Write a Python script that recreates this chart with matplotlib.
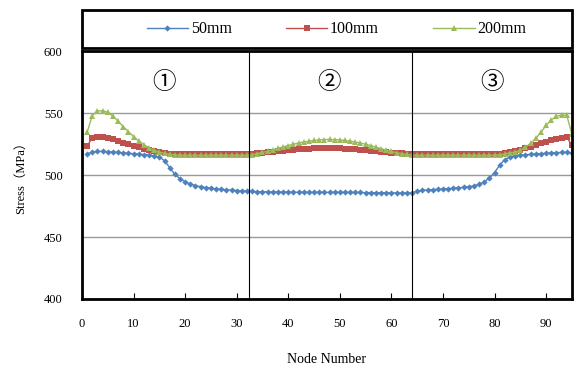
import matplotlib
matplotlib.use("Agg")
import matplotlib.pyplot as plt
from matplotlib.patches import Rectangle
import numpy as np

plt.rcParams['font.family'] = ['Liberation Serif', 'Noto Sans CJK JP', 'DejaVu Sans']

nodes = list(range(1, 96))

s50 = [517.0, 518.5, 519.0, 519.0, 518.8, 518.5, 518.2, 517.8, 517.5, 517.2,
       516.8, 516.4, 516.0, 515.5, 514.5, 511.5, 506.0, 500.5, 497.0, 494.5,
       492.8, 491.5, 490.6, 489.9, 489.3, 488.8, 488.4, 488.1, 487.8, 487.5,
       487.2, 487.0, 486.8, 486.6, 486.5, 486.4, 486.3, 486.3, 486.2, 486.2,
       486.1, 486.1, 486.1, 486.0, 486.0, 486.0, 486.0, 486.0, 486.0, 486.0,
       486.0, 486.0, 485.9, 485.9, 485.8, 485.8, 485.7, 485.7, 485.6, 485.6,
       485.5, 485.5, 485.5, 485.6, 487.0, 487.6, 487.9, 488.2, 488.4, 488.7,
       489.0, 489.3, 489.7, 490.1, 490.6, 491.3, 492.5, 494.5, 497.5, 502.0,
       508.0, 512.5, 514.5, 515.5, 516.0, 516.3, 516.7, 517.0, 517.3, 517.5,
       517.8, 518.0, 518.2, 518.2, 518.0]

s100 = [523.5, 530.0, 530.8, 530.5, 529.8, 528.8, 527.5, 526.2, 524.8, 523.5,
        522.2, 521.0, 520.0, 519.0, 518.2, 517.6, 517.2, 517.0, 517.0, 517.0,
        517.0, 517.0, 517.0, 517.0, 517.0, 517.0, 517.0, 517.0, 517.0, 517.0,
        517.0, 517.0, 517.1, 517.5, 517.8, 518.2, 518.6, 519.0, 519.5, 520.0,
        520.4, 520.8, 521.1, 521.3, 521.4, 521.5, 521.5, 521.5, 521.5, 521.4,
        521.3, 521.1, 520.8, 520.4, 520.0, 519.5, 519.0, 518.6, 518.2, 517.9,
        517.6, 517.4, 517.2, 517.0, 517.0, 517.0, 517.0, 517.0, 517.0, 517.0,
        517.0, 517.0, 517.0, 517.0, 517.0, 517.0, 517.0, 517.0, 517.0, 517.0,
        517.2, 517.6, 518.3, 519.2, 520.3, 521.5, 522.8, 524.2, 525.6, 527.0,
        528.3, 529.4, 530.2, 530.5, 524.0]

s200 = [534.5, 548.0, 551.5, 552.0, 550.5, 547.5, 543.5, 539.0, 535.0, 531.0,
        527.5, 524.5, 522.0, 520.0, 518.5, 517.4, 516.7, 516.3, 516.0, 516.0,
        516.0, 516.0, 516.0, 516.0, 516.0, 516.0, 516.0, 516.0, 516.0, 516.0,
        516.0, 516.0, 516.5, 517.3, 518.2, 519.2, 520.3, 521.5, 522.7, 523.8,
        524.8, 525.8, 526.6, 527.3, 527.9, 528.3, 528.6, 528.7, 528.6, 528.3,
        527.9, 527.3, 526.6, 525.8, 524.8, 523.7, 522.5, 521.3, 520.1, 519.0,
        518.0, 517.2, 516.6, 516.2, 516.0, 516.0, 516.0, 516.0, 516.0, 516.0,
        516.0, 516.0, 516.0, 516.0, 516.0, 516.0, 516.0, 516.0, 516.0, 516.0,
        516.3, 517.0, 518.0, 518.5, 520.0, 522.5, 525.5, 529.5, 534.5, 540.0,
        544.5, 547.3, 548.3, 548.2, 533.0]

series = [s50, s100, s200]
labels = ["50mm", "100mm", "200mm"]
colors = ["#4F81BD", "#C0504D", "#9BBB59"]
markers = ["D", "s", "^"]
msizes = [3.2, 4.8, 4.8]

boundaries = [32.4, 64]
regions = ["①", "②", "③"]
region_x = [16, 48, 79.5]

fig = plt.figure(figsize=(5.75, 3.78), dpi=100)
ax = fig.add_axes([0.1426, 0.209, 0.852, 0.656])

for y, lab, c, m, ms in zip(series, labels, colors, markers, msizes):
    ax.plot(nodes, y, color=c, marker=m, markersize=ms, linewidth=1,
            markeredgewidth=0, label=lab)

for b in boundaries:
    ax.axvline(b, color="black", linewidth=0.8)
for t, xx in zip(regions, region_x):
    ax.text(xx, 575, t, ha="center", va="center", fontsize=17,
            family=["Noto Sans CJK JP", "DejaVu Sans"])

ax.set_xlim(0, 95)
ax.set_ylim(400, 600)
ax.set_xticks(range(0, 100, 10))
ax.set_yticks(range(400, 650, 50))
ax.yaxis.grid(True, color="#999999", linewidth=1)
ax.set_axisbelow(True)
for sp in ax.spines.values():
    sp.set_linewidth(2)
ax.tick_params(axis="x", direction="in", length=4, pad=14, labelsize=9)
ax.tick_params(axis="y", length=0, pad=14, labelsize=9)
ax.set_xlabel("Node Number", fontsize=10, labelpad=16)
ax.set_ylabel("Stress（MPa）", fontsize=9, labelpad=12)

# legend sits in its own framed strip above the plot
fig.patches.append(Rectangle((0.1426, 0.873), 0.852, 0.1, transform=fig.transFigure,
                             fill=False, edgecolor="black", linewidth=2))
fig.legend(loc="center", bbox_to_anchor=(0.585, 0.923), ncol=3, frameon=False,
           fontsize=11.5, columnspacing=3.4, handlelength=2.6, handletextpad=0.15)

fig.savefig("out.png", dpi=100)
